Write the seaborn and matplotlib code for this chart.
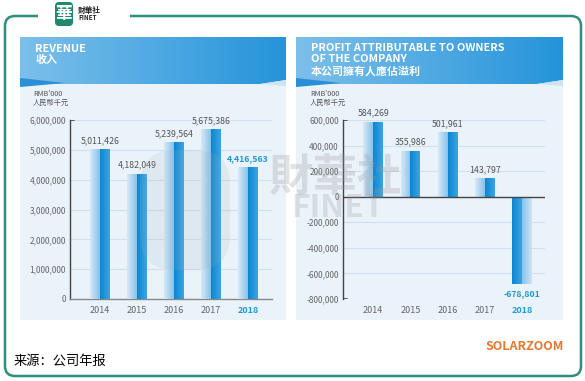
import numpy as np
import matplotlib
matplotlib.use("Agg")
import matplotlib.pyplot as plt
import seaborn as sns
from matplotlib.colors import LinearSegmentedColormap
from matplotlib.patches import FancyBboxPatch, Rectangle, Polygon

years = ["2014", "2015", "2016", "2017", "2018"]
revenue = [5011426, 4182049, 5239564, 5675386, 4416563]
profit = [584269, 355986, 501961, 143797, -678801]
rev_ticks = [0, 1000000, 2000000, 3000000, 4000000, 5000000, 6000000]
profit_ticks = [-800000, -600000, -400000, -200000, 0, 200000, 400000, 600000]

sns.set_theme(style="white")
plt.rcParams["font.family"] = ["Noto Sans CJK SC", "DejaVu Sans"]

W, H = 585, 381
fig = plt.figure(figsize=(W / 100, H / 100), dpi=100)
fig.patch.set_facecolor("white")

# background layer in pixel coordinates
bg = fig.add_axes([0, 0, 1, 1])
bg.set_xlim(0, W)
bg.set_ylim(H, 0)
bg.axis("off")


def hgrad(ax, x0, x1, y0, y1, c0, c1, z=1, clip=None):
    cmap = LinearSegmentedColormap.from_list("g", [c0, c1])
    im = ax.imshow(np.linspace(0, 1, 128).reshape(1, -1), cmap=cmap,
                   extent=[x0, x1, y0, y1], aspect="auto", zorder=z,
                   interpolation="bilinear")
    if clip is not None:
        im.set_clip_path(clip)
    return im


# outer frame
frame = FancyBboxPatch((5, 16), 576, 360, boxstyle="round,pad=0,rounding_size=10",
                       fc="none", ec="#2e8f7f", lw=1.8, zorder=1)
bg.add_patch(frame)
bg.add_patch(Rectangle((38, 8), 92, 14, fc="white", ec="none", zorder=2))

# logo
bg.add_patch(FancyBboxPatch((55, 2), 18, 24, boxstyle="round,pad=0,rounding_size=4",
                            fc="#1f8a6e", ec="none", zorder=3))
bg.text(64, 14, "華", color="white", fontsize=12, fontweight="bold",
        ha="center", va="center", zorder=4)
bg.text(78, 10, "財華社", color="#222", fontsize=5.5, fontweight="bold",
        ha="left", va="center", zorder=4)
bg.text(78, 18, "FINET", color="#222", fontsize=4.5, fontweight="bold",
        ha="left", va="center", zorder=4)

# panels
for px0, px1 in [(20, 286), (296, 563)]:
    bg.add_patch(Rectangle((px0, 37), px1 - px0, 283, fc="#eaf2fa", ec="none", zorder=1))
    hdr = Polygon([(px0, 37), (px1, 37), (px1, 80), (px1 - 26, 84), (px0, 84)],
                  closed=True, fc="none", ec="none")
    bg.add_patch(hdr)
    hgrad(bg, px0, px1, 37, 86, "#7cbfeb", "#2594da", z=2, clip=hdr)
    bg.add_patch(Polygon([(px0, 78), (px0 + 45, 83), (px0, 87)], closed=True,
                         fc="#2a8fd6", ec="none", zorder=3))
    bg.add_patch(Polygon([(px1 - 26, 84), (px1, 80), (px1, 86)], closed=True,
                         fc="#cfe3f4", ec="none", zorder=3))

# header texts
hkw = dict(color="white", fontsize=7.9, fontweight="bold", va="center", zorder=5)
bg.text(35, 49, "REVENUE", **hkw)
bg.text(35, 59.5, "收入", **hkw)
bg.text(311, 48, "PROFIT ATTRIBUTABLE TO OWNERS", **hkw)
bg.text(311, 59.5, "OF THE COMPANY", **hkw)
bg.text(311, 71.5, "本公司擁有人應佔溢利", **hkw)
for tx in (33, 310):
    bg.text(tx, 94, "RMB'000", color="#555", fontsize=5.2, va="center", zorder=5)
    bg.text(tx, 103, "人民幣千元", color="#555", fontsize=5.2, va="center", zorder=5)

# footer
bg.text(14, 361, "来源：公司年报", color="black", fontsize=9.5, va="center", zorder=5)
bg.text(564, 346, "SOLARZOOM", color="#e8772e", fontsize=9, fontweight="bold",
        ha="right", va="center", zorder=5)


def draw_chart(rect, values, ticks, ylim, xlim, zero_line):
    ax = fig.add_axes(rect)
    ax.set_facecolor("none")
    sns.barplot(x=years, y=values, ax=ax, width=0.52, color="#8ec5ec", saturation=1)
    bars = list(ax.patches)
    for p, v in zip(bars, values):
        x, w = p.get_x(), p.get_width()
        ylo, yhi = sorted([p.get_y(), p.get_y() + p.get_height()])
        p.set_facecolor("none")
        p.set_edgecolor("none")
        if v >= 0:
            hgrad(ax, x, x + w / 2, ylo, yhi, "#d9eaf8", "#86c1ea", z=3)
            hgrad(ax, x + w / 2, x + w, ylo, yhi, "#0b86d2", "#3ea4e2", z=3)
        else:
            hgrad(ax, x, x + w / 2, ylo, yhi, "#0b86d2", "#3ea4e2", z=3)
            hgrad(ax, x + w / 2, x + w, ylo, yhi, "#86c1ea", "#cfe4f6", z=3)
    ax.set_xlim(*xlim)
    ax.set_ylim(*ylim)
    ax.set_yticks(ticks)
    ax.set_yticklabels([f"{t:,}" for t in ticks])
    ax.yaxis.grid(True, color="#d3dfea", lw=0.8)
    ax.set_axisbelow(True)
    ax.tick_params(axis="both", length=0, labelsize=6, colors="#666", pad=3)
    ax.tick_params(axis="x", labelsize=6.5, pad=5)
    lbls = ax.get_xticklabels()
    lbls[-1].set_color("#1e9ad8")
    lbls[-1].set_fontweight("bold")
    for s in ["top", "right"]:
        ax.spines[s].set_visible(False)
    ax.spines["left"].set_color("#444")
    ax.spines["left"].set_linewidth(1.0)
    if zero_line:
        ax.spines["bottom"].set_visible(False)
        ax.axhline(0, color="#444", lw=1.0, zorder=4)
        ax.axhline(ylim[0], xmax=0.02, color="#444", lw=1.2, zorder=4)
    else:
        ax.spines["bottom"].set_color("#888")
        ax.spines["bottom"].set_linewidth(1.0)
    ax.axhline(ylim[1], xmax=0.02, color="#444", lw=1.2, zorder=4)
    ax.set_xlabel("")
    ax.set_ylabel("")
    span = ylim[1] - ylim[0]
    for i, v in enumerate(values):
        last = i == len(values) - 1
        kw = dict(ha="center", fontsize=6.3, zorder=6,
                  color="#1e9ad8" if last else "#555",
                  fontweight="bold" if last else "normal")
        if v >= 0:
            ax.text(i, v + span * 0.025, f"{v:,}", va="bottom", **kw)
        else:
            ax.text(i, v - span * 0.03, f"{v:,}", va="top", **kw)
    return ax


bottom = (H - 299) / H
height = 179 / H
draw_chart([70 / W, bottom, 202 / W, height], revenue, rev_ticks,
           (0, 6000000), (-0.81, 4.65), zero_line=False)
draw_chart([343 / W, bottom, 202 / W, height], profit, profit_ticks,
           (-800000, 600000), (-0.81, 4.62), zero_line=True)

# watermark overlay
ov = fig.add_axes([0, 0, 1, 1], zorder=10)
ov.set_xlim(0, W)
ov.set_ylim(H, 0)
ov.axis("off")
ov.set_facecolor("none")
ov.add_patch(FancyBboxPatch((140, 150), 90, 120, boxstyle="round,pad=0,rounding_size=35",
                            fc="#9fb4bf", ec="none", alpha=0.15))
ov.text(335, 178, "財華社", color="#999", alpha=0.28, fontsize=32, fontweight="bold",
        ha="center", va="center")
ov.text(338, 208, "FINET", color="#999", alpha=0.25, fontsize=23, fontweight="bold",
        ha="center", va="center")

fig.savefig("out.png", dpi=100)
